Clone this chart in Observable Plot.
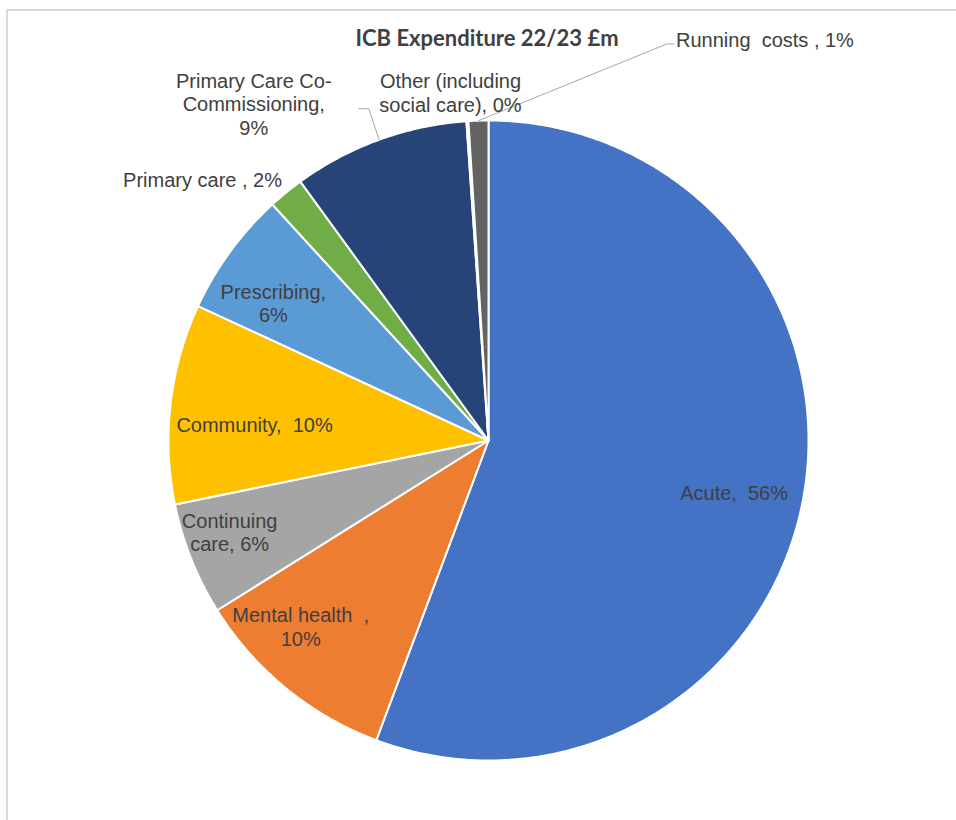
<!DOCTYPE html>
<html><head><meta charset="utf-8">
<script src="https://cdn.jsdelivr.net/npm/d3@7"></script>
<script src="https://cdn.jsdelivr.net/npm/@observablehq/plot@0.6"></script>
<style>
body{margin:0;background:#fff;}
#wrap{position:relative;width:956px;height:820px;overflow:hidden;}
#frame{position:absolute;left:6px;top:9px;width:960px;height:820px;border-top:2px solid #dadada;border-left:2px solid #dadada;pointer-events:none;}
svg{display:block;}
</style></head><body><div id="wrap"><div id="chart"></div><div id="frame"></div></div><script>
// ---- data ----
const title = "ICB Expenditure 22/23 £m";
const categories = ["Acute", "Mental health", "Continuing care", "Community", "Prescribing", "Primary care", "Primary Care Co-Commissioning", "Other (including social care)", "Running costs"];
const values = [55.7, 10.4, 5.7, 10.1, 6.3, 1.8, 8.9, 0.1, 1.0];
const labelTexts = ["Acute,  56%", "Mental health  ,\n10%", "Continuing\ncare, 6%", "Community,  10%", "Prescribing,\n6%", "Primary care , 2%", "Primary Care Co-\nCommissioning,\n9%", "Other (including\nsocial care), 0%", "Running  costs , 1%"];
const colors = ["#4472C4", "#ED7D31", "#A5A5A5", "#FFC000", "#5B9BD5", "#70AD47", "#264478", "#9E480E", "#636363"];

// ---- label layout (radius factor from slice mid-angle, pixel nudges, anchor) ----
const labelR = [0.78, 0.75, 0.871, 0.736, 0.833, 1.03, 1.15, 1.09, 1.24];
const labelDx = [0, -36, 0, 0, 0, 2, -109, -15, 200];
const labelDy = [7, 0, -12, 11, 20, -6, 9, 0, -4];
const labelAnchor = ["middle", "middle", "middle", "middle", "middle", "end", "middle", "middle", "start"];

const W = 956, H = 820, R = 320, CX = 488, CY = 440; // pixel layout of the pie
const arcs = d3.pie().sort(null).value(d => d)(values);

// slice polygons
const slices = arcs.map((a, i) => {
  const pts = [{x: 0, y: 0}];
  const n = Math.max(2, Math.ceil((a.endAngle - a.startAngle) / (Math.PI / 360)));
  for (let k = 0; k <= n; k++) {
    const t = a.startAngle + (a.endAngle - a.startAngle) * k / n;
    pts.push({x: Math.sin(t), y: Math.cos(t)});
  }
  pts.push({x: 0, y: 0});
  return {cat: categories[i], color: colors[i], pts};
});

// label anchors in data units
const labels = arcs.map((a, i) => {
  const m = (a.startAngle + a.endAngle) / 2;
  return {
    text: labelTexts[i],
    x: labelR[i] * Math.sin(m) + labelDx[i] / R,
    y: labelR[i] * Math.cos(m) - labelDy[i] / R,
    mid: m, anchor: labelAnchor[i]
  };
});

// leader lines (co-commissioning and running costs)
const onArc = i => { const m = labels[i].mid; return {x: Math.sin(m), y: Math.cos(m)}; };
const px = (l, dx, dy) => ({x: l.x + dx / R, y: l.y - dy / R});
const leaders = [
  [onArc(6), px(labels[6], 115, 5), px(labels[6], 105, 5)],
  [onArc(8), px(labels[8], -9, 4), px(labels[8], -2, 4)]
];

const font = "'Liberation Sans', Arial, sans-serif";
const marks = [];
slices.forEach(s => marks.push(Plot.line(s.pts, {x: "x", y: "y", fill: s.color, stroke: "white", strokeWidth: 2, strokeLinejoin: "round", curve: "linear-closed"})));
leaders.forEach(l => marks.push(Plot.line(l, {x: "x", y: "y", stroke: "#a6a6a6", strokeWidth: 1})));
labels.forEach(l => marks.push(Plot.text([l], {x: "x", y: "y", text: "text", textAnchor: l.anchor, lineAnchor: "middle", lineHeight: 1.18, fill: "#404040", fontSize: 20, fontFamily: font})));
marks.push(Plot.text([title], {frameAnchor: "top-left", dx: 355, dy: 38, text: d => d, textAnchor: "start", lineAnchor: "middle", fontSize: 22, fontWeight: "bold", fill: "#404040", fontFamily: "Lato, 'Open Sans', sans-serif"}));

const chart = Plot.plot({
  width: W, height: H,
  margin: 0,
  x: {domain: [-CX / R, (W - CX) / R], axis: null},
  y: {domain: [-(H - CY) / R, CY / R], axis: null},
  style: {background: "white", overflow: "visible"},
  marks
});
document.getElementById("chart").appendChild(chart);
</script></body></html>
